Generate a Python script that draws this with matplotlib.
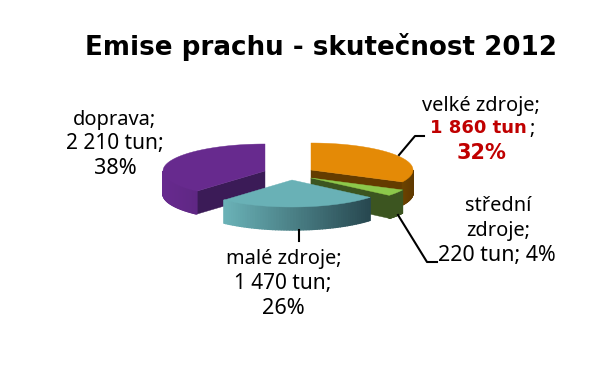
import numpy as np
import matplotlib
matplotlib.use("Agg")
import matplotlib.pyplot as plt
from matplotlib.colors import to_rgb
from matplotlib.patches import Polygon

names = ["velké zdroje", "střední zdroje", "malé zdroje", "doprava"]
tons = [1860, 220, 1470, 2210]
percents = [32, 4, 26, 38]

# apex of every slice in pixels (exploded pie), top colour, cut colour, rim colours
centers = [(311, 170), (311, 178), (292, 180), (265, 171)]
top_colors = ["#E48A06", "#8CC84B", "#69B1B6", "#672A8E"]
cut_colors = ["#643C00", "#3C5520", "#2A4A52", "#3B1B57"]
rim_left = ["#6B4200", "#3C5520", "#6AB2B7", "#672A8E"]
rim_right = ["#5F3900", "#3C5520", "#27474F", "#5F2784"]

RX = 102
RY = 27
DEPTH = 23

plt.rcParams['font.family'] = ['Noto Sans', 'DejaVu Sans']
fig = plt.figure(figsize=(6.02, 3.76), dpi=100)
ax = fig.add_axes([0, 0, 1, 1])
ax.set_xlim(0, 602)
ax.set_ylim(376, 0)
ax.axis("off")


def rim_point(c, a):
    return c[0] + RX * np.sin(a), c[1] - RY * np.cos(a)


def mix(c1, c2, t):
    c1, c2 = np.array(to_rgb(c1)), np.array(to_rgb(c2))
    return tuple(c1 + (c2 - c1) * t)


def fill(pts, color, z, lw=0.3):
    ax.add_patch(Polygon(pts, closed=True, fc=color, ec=color, lw=lw, zorder=z))


# angles run clockwise from 12 o'clock
shares = np.array(tons) / sum(tons)
edges = np.concatenate([[0], np.cumsum(shares)]) * 2 * np.pi

# back to front: orange, purple, green, teal
order = {0: 1, 3: 2, 1: 3, 2: 4}
for i, z in order.items():
    c = centers[i]
    a0, a1 = edges[i], edges[i + 1]

    # cut faces that look at the viewer
    if i in (0, 1):
        x1, y1 = rim_point(c, a1)
        fill([c, (x1, y1), (x1, y1 + DEPTH), (c[0], c[1] + DEPTH)], cut_colors[i], z)
    if i == 3:
        x0, y0 = rim_point(c, a0)
        fill([c, (x0, y0), (x0, y0 + DEPTH), (c[0], c[1] + DEPTH)], cut_colors[i], z)

    # outer side, only the front half, shaded left to right
    lo, hi = max(a0, np.pi / 2), min(a1, 3 * np.pi / 2)
    steps = np.linspace(lo, hi, 60)
    xs = [rim_point(c, a)[0] for a in steps]
    xmin, xmax = min(xs), max(xs)
    for a, b in zip(steps[:-1], steps[1:]):
        xa, ya = rim_point(c, a)
        xb, yb = rim_point(c, b)
        t = ((xa + xb) / 2 - xmin) / (xmax - xmin)
        col = mix(rim_left[i], rim_right[i], t)
        fill([(xa, ya), (xb, yb), (xb, yb + DEPTH), (xa, ya + DEPTH)], col, z, lw=1.0)

    # top face
    arc = [rim_point(c, a) for a in np.linspace(a0, a1, 120)]
    fill([c] + arc, top_colors[i], z + 0.5)

# leader lines
ax.plot([399, 415, 424], [155, 136, 136], color="black", lw=1.5, zorder=6)
ax.plot([398, 427, 437], [215, 262, 262], color="black", lw=1.5, zorder=6)
ax.plot([299, 299], [230, 241], color="black", lw=1.5, zorder=6)

ax.text(321, 47, "Emise prachu - skutečnost 2012", ha="center", va="center",
        fontsize=18.8, fontweight="bold", family="DejaVu Sans", color="black")

fs = 14.4
fs_num = 15.6
red = "#C00000"
ax.text(481, 106, f"{names[0]};", ha="center", va="center", fontsize=fs)
ax.text(478, 128, "1 860 tun", ha="center", va="center", fontsize=13, fontweight="bold",
        family="DejaVu Sans", color=red)
ax.text(532, 129, ";", ha="center", va="center", fontsize=fs)
ax.text(481, 153, f"{percents[0]}%", ha="center", va="center", fontsize=15, fontweight="bold",
        family="DejaVu Sans", color=red)

ax.text(498, 206, "střední", ha="center", va="center", fontsize=fs)
ax.text(498, 231, "zdroje;", ha="center", va="center", fontsize=fs)
ax.text(497, 255, "220 tun; 4%", ha="center", va="center", fontsize=15.4)

ax.text(283.5, 259, f"{names[2]};", ha="center", va="center", fontsize=fs)
ax.text(283, 284, "1 470 tun;", ha="center", va="center", fontsize=15)
ax.text(283, 308, f"{percents[2]}%", ha="center", va="center", fontsize=fs_num)

ax.text(115, 120, f"{names[3]};", ha="center", va="center", fontsize=fs)
ax.text(115, 144, "2 210 tun;", ha="center", va="center", fontsize=15)
ax.text(115, 168, f"{percents[3]}%", ha="center", va="center", fontsize=fs_num)

fig.savefig("out.png", dpi=100, facecolor="white")
